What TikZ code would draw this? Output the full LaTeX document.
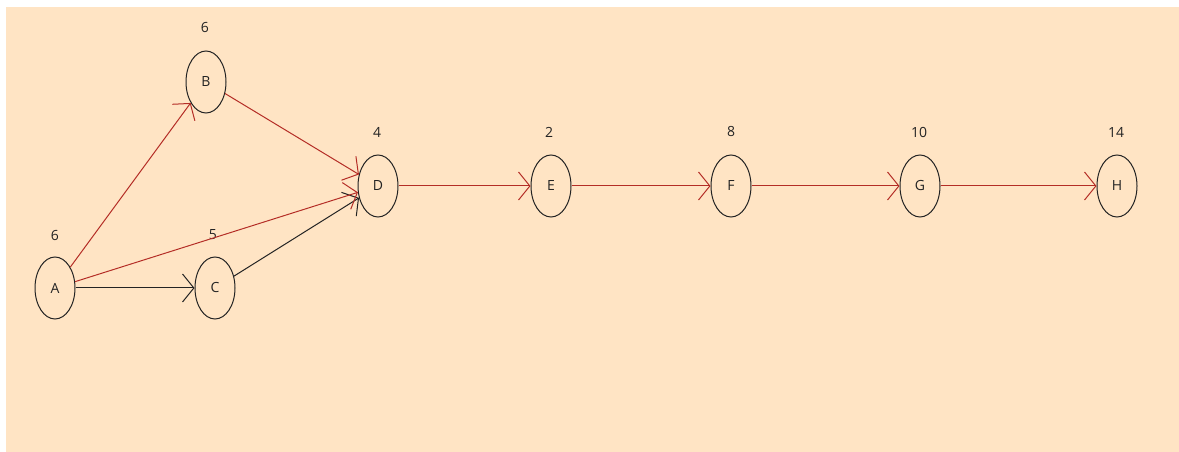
\documentclass[tikz,border=0pt]{standalone}
\usepackage{fontspec}
\setmainfont{Open Sans}
\usetikzlibrary{shapes.geometric, arrows.meta}
\definecolor{NetPeach}{RGB}{255,228,196}
\definecolor{NetRed}{RGB}{180,45,38}
\definecolor{NetInk}{RGB}{35,35,35}

\begin{document}
\begin{tikzpicture}[x=0.75pt, y=-0.75pt,
            ev/.style={ellipse, draw=NetInk, line width=0.75pt, minimum width=30pt,
                       minimum height=46.5pt, inner sep=0pt, text=NetInk,
                       font=\fontsize{10.5}{12}\selectfont},
            num/.style={text=NetInk, font=\fontsize{10.5}{12}\selectfont},
            arr/.style={-{Straight Barb[length=8.5pt, width=21pt]}, draw=NetInk, line width=0.75pt},
            crit/.style={arr, draw=NetRed}
          ]
          \useasboundingbox (0,0) rectangle (1179,452);
          \fill[NetPeach] (6,7) rectangle (1179,452);

          % events
          \node[ev] (A) at (55, 288) {A};
          \node[ev] (B) at (206, 82) {B};
          \node[ev] (C) at (215, 288) {C};
          \node[ev] (D) at (378, 186) {D};
          \node[ev] (E) at (551, 186) {E};
          \node[ev] (F) at (731, 186) {F};
          \node[ev] (G) at (920, 186) {G};
          \node[ev] (H) at (1117, 186) {H};

          % durations
          \node[num] (nA) at (55, 236) {6};
          \node[num] (nB) at (205, 28) {6};
          \node[num] (nC) at (213, 235) {5};
          \node[num] (nD) at (377, 132) {4};
          \node[num] (nE) at (549, 132) {2};
          \node[num] (nF) at (731, 132) {8};
          \node[num] (nG) at (919, 132) {10};
          \node[num] (nH) at (1116, 132) {14};

          % activities
          \draw[arr] (A)--(C); \draw[arr] (C)--(D);
          \draw[crit] (A)--(B); \draw[crit] (A)--(D);
          \draw[crit] (B)--(D); \draw[crit] (D)--(E);
          \draw[crit] (E)--(F); \draw[crit] (F)--(G);
          \draw[crit] (G)--(H);
        \end{tikzpicture}
\end{document}
